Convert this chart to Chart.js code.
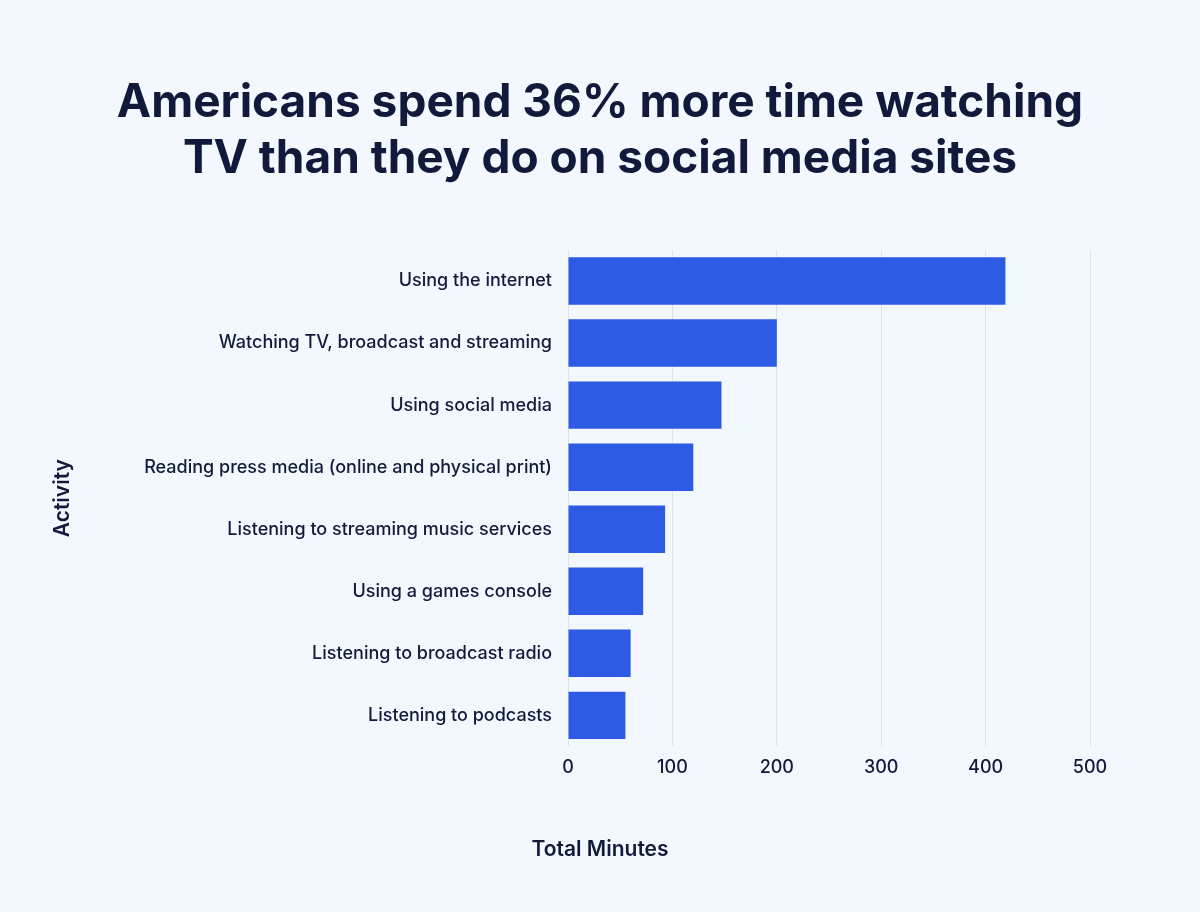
<!DOCTYPE html>
<html>
<head>
<meta charset="utf-8">
<script src="https://cdn.jsdelivr.net/npm/chart.js@4"></script>
<style>
  html, body { margin: 0; padding: 0; background: #f3f8fe; }
  #wrap { position: relative; width: 1200px; height: 912px; }
  #title { position: absolute; left: 0; top: 72px; width: 1200px; text-align: center;
           font-family: Inter, sans-serif; font-weight: 700; font-size: 46px; line-height: 56px; color: #111a3a; }
  #xtitle { position: absolute; left: 0; top: 836px; width: 1200px; text-align: center;
            font-family: Inter, sans-serif; font-weight: 600; font-size: 21px; color: #111a3a; }
</style>
</head>
<body>
<div id="wrap">
  <canvas id="chart"></canvas>
  <div id="title">Americans spend 36% more time watching<br>TV than they do on social media sites</div>
  <div id="xtitle">Total Minutes</div>
</div>
<script>
var activities = [
    'Using the internet',
    'Watching TV, broadcast and streaming',
    'Using social media',
    'Reading press media (online and physical print)',
    'Listening to streaming music services',
    'Using a games console',
    'Listening to broadcast radio',
    'Listening to podcasts'
]
var minutes = [419, 200, 147, 120, 93, 72, 60, 55]

var ink = '#111a3a'

var config = {
    type: 'bar',
    data: {
        labels: activities,
        datasets: [{
            label: 'Total Minutes',
            backgroundColor: '#2d5be3',
            data: minutes,
            barPercentage: 0.85,
            categoryPercentage: 0.9
        }]
    },
    options: {
        indexAxis: 'y',
        responsive: true,
        maintainAspectRatio: false,
        animation: false,
        layout: { padding: { left: 46, right: 110, top: 250, bottom: 124 } },
        scales: {
            x: {
                min: 0,
                max: 500,
                ticks: { stepSize: 100, color: ink, font: { family: 'Inter', size: 18, weight: '500' }, padding: 10 },
                grid: { color: '#dde3ea', drawTicks: false },
                border: { display: false }
            },
            y: {
                afterFit: function(scale) { scale.width = 522; },
                ticks: { color: ink, font: { family: 'Inter', size: 18, weight: '500' }, padding: 8 },
                grid: { display: false },
                border: { display: false },
                title: { display: true, text: 'Activity', color: ink,
                         font: { family: 'Inter', size: 21, weight: '600' } }
            }
        },
        plugins: {
            legend: { display: false },
            tooltip: { enabled: false }
        }
    }
};

var chart = new Chart(document.getElementById('chart'), config);
</script>
</body>
</html>
